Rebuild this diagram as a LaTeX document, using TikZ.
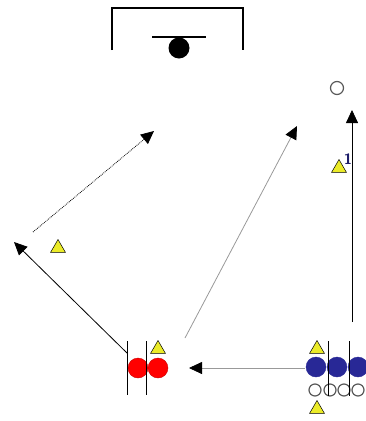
\documentclass[tikz,border=0pt]{standalone}
\usepackage{xcolor}
\usepackage{tikz}
\usetikzlibrary{arrows,arrows.meta,positioning,calc,shapes}

\definecolor{navy}{RGB}{40,40,150}
\definecolor{cone}{RGB}{235,235,40}

\tikzset{
  cone/.style={regular polygon,regular polygon sides=3,draw=black,fill=cone,inner sep=0pt,minimum size=17pt,line width=0.5pt},
  redball/.style={circle,fill=red,draw=red!80!black,minimum size=20pt,inner sep=0pt},
  blueball/.style={circle,fill=navy,draw=navy,minimum size=20pt,inner sep=0pt},
  ring/.style={circle,draw=black!65,line width=1.2pt,minimum size=12pt,inner sep=0pt},
  run/.style={-{Triangle[length=13pt,width=12pt,fill=black]},line width=0.8pt},
  pass/.style={-{Triangle[length=13pt,width=12pt,fill=black,color=black]},black!40,line width=0.8pt},
}

\begin{document}
\begin{tikzpicture}[x=1pt,y=-1pt]
\useasboundingbox (0,0) rectangle (365,421);

% Goal
\draw[line width=1.5pt] (112,50) -- (112,8) -- (243,8) -- (243,50);
\draw[line width=1.4pt] (152,37) -- (206,37);
\node[circle,fill=black,minimum size=21pt,inner sep=0pt] (goalball) at (179,48) {};

% Far post marker
\node[ring,minimum size=13pt] (target) at (337,88) {};

% Red group
\node[redball] (redA) at (138,368) {};
\node[redball] (redB) at (158,368) {};
\draw[line width=0.8pt] (127,341) -- (127,395);
\draw[line width=0.8pt] (146,341) -- (146,395);
\node[cone] (coneR) at (158,349) {};

% Blue group
\node[blueball] (blueA) at (316,367) {};
\node[blueball] (blueB) at (337,367) {};
\node[blueball] (blueC) at (358,367) {};
\foreach \x/\n in {315/1,330/2,344/3,358/4}
  \node[ring] (ring\n) at (\x,390) {};
\draw[line width=0.8pt] (328,341) -- (328,396);
\draw[line width=0.8pt] (349,341) -- (349,396);
\node[cone] (coneB1) at (317,349) {};
\node[cone] (coneB2) at (317,409) {};

% Other cones
\node[cone] (coneL) at (58,248) {};
\node[cone] (cone1) at (339,168) {};
\node[font=\sffamily\bfseries\fontsize{15}{16}\selectfont,color=navy!70!black,inner sep=0pt] (num1) at (348,159) {1};

% Runs and passes
\coordinate (runL) at (14,242);
\coordinate (runLs) at (127,353);
\draw[run] (runLs) -- (runL);
\coordinate (dotS) at (33,232);
\coordinate (dotE) at (154,131);
\draw[run,densely dotted] (dotS) -- (dotE);
\coordinate (passS) at (185,338);
\coordinate (passE) at (297,126);
\draw[pass] (passS) -- (passE);
\coordinate (runR) at (352,110);
\coordinate (runRs) at (352,322);
\draw[run] (runRs) -- (runR);
\coordinate (passHs) at (305,368);
\coordinate (passL) at (189,368);
\draw[pass] (passHs) -- (passL);
\end{tikzpicture}
\end{document}
